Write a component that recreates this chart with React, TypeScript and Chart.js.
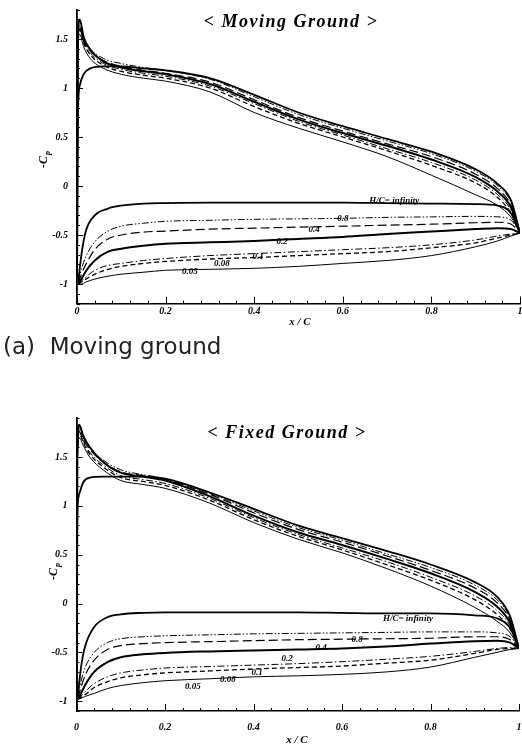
import React, { useEffect, useRef } from "react";
import { Chart, registerables } from "chart.js";
Chart.register(...registerables);

// sample positions (x/C) along the upper and lower surfaces
const upperX = [0, 0.002, 0.006, 0.015, 0.03, 0.06, 0.1, 0.15, 0.2, 0.3, 0.4, 0.5, 0.6, 0.7, 0.8, 0.9, 0.95, 0.98, 1.0];
const lowerX = [0.003, 0.01, 0.02, 0.04, 0.07, 0.1, 0.15, 0.2, 0.3, 0.4, 0.5, 0.6, 0.7, 0.8, 0.9, 0.95, 0.98, 1.0];

const seriesKeys = ["inf", "0.8", "0.4", "0.2", "0.1", "0.08", "0.05"];
const seriesLabels = ["H/C= infinity", "0.8", "0.4", "0.2", "0.1", "0.08", "0.05"];

// ---- Moving ground : upper surface (-Cp)
const movingUpperInf = [-0.95, 0.7, 1.02, 1.14, 1.2, 1.22, 1.22, 1.2, 1.18, 1.1, 0.93, 0.75, 0.61, 0.48, 0.35, 0.17, 0.02, -0.15, -0.48];
const movingUpper08 = [-0.95, 1.45, 1.62, 1.5, 1.4, 1.3, 1.25, 1.21, 1.18, 1.09, 0.91, 0.73, 0.59, 0.46, 0.33, 0.15, 0.0, -0.17, -0.48];
const movingUpper04 = [-0.95, 1.4, 1.6, 1.48, 1.38, 1.28, 1.22, 1.18, 1.15, 1.06, 0.88, 0.7, 0.56, 0.43, 0.3, 0.12, -0.03, -0.2, -0.48];
const movingUpper02 = [-0.95, 1.5, 1.7, 1.52, 1.39, 1.27, 1.21, 1.17, 1.14, 1.04, 0.86, 0.68, 0.54, 0.41, 0.27, 0.09, -0.06, -0.22, -0.48];
const movingUpper01 = [-0.95, 1.42, 1.64, 1.48, 1.36, 1.25, 1.19, 1.15, 1.12, 1.02, 0.84, 0.66, 0.52, 0.38, 0.24, 0.06, -0.09, -0.25, -0.48];
const movingUpper008 = [-0.95, 1.42, 1.6, 1.46, 1.34, 1.23, 1.17, 1.13, 1.1, 1.0, 0.81, 0.64, 0.5, 0.36, 0.21, 0.03, -0.12, -0.28, -0.48];
const movingUpper005 = [-0.95, 1.35, 1.55, 1.42, 1.3, 1.2, 1.14, 1.1, 1.07, 0.96, 0.75, 0.59, 0.45, 0.3, 0.11, -0.09, -0.2, -0.32, -0.48];

// ---- Moving ground : lower surface (-Cp)
const movingLowerInf = [-0.97, -0.7, -0.46, -0.3, -0.23, -0.2, -0.18, -0.175, -0.17, -0.17, -0.17, -0.17, -0.175, -0.18, -0.185, -0.2, -0.28, -0.48];
const movingLower08 = [-0.98, -0.85, -0.72, -0.57, -0.46, -0.41, -0.38, -0.36, -0.35, -0.34, -0.335, -0.33, -0.32, -0.315, -0.31, -0.315, -0.35, -0.48];
const movingLower04 = [-0.99, -0.9, -0.8, -0.65, -0.54, -0.5, -0.47, -0.46, -0.44, -0.43, -0.42, -0.41, -0.4, -0.39, -0.375, -0.37, -0.39, -0.48];
const movingLower02 = [-1.0, -0.95, -0.87, -0.76, -0.67, -0.64, -0.61, -0.59, -0.575, -0.56, -0.54, -0.52, -0.49, -0.465, -0.44, -0.43, -0.44, -0.48];
const movingLower01 = [-1.0, -0.97, -0.93, -0.86, -0.81, -0.79, -0.76, -0.74, -0.71, -0.69, -0.67, -0.65, -0.63, -0.6, -0.55, -0.51, -0.49, -0.48];
const movingLower008 = [-1.0, -0.98, -0.95, -0.9, -0.85, -0.82, -0.79, -0.77, -0.745, -0.73, -0.71, -0.69, -0.67, -0.63, -0.58, -0.53, -0.5, -0.48];
const movingLower005 = [-1.0, -1.0, -0.98, -0.95, -0.92, -0.9, -0.88, -0.86, -0.85, -0.84, -0.82, -0.79, -0.76, -0.71, -0.62, -0.56, -0.51, -0.48];

// ---- Fixed ground : upper surface (-Cp)
const fixedUpperInf = [-0.93, 0.9, 1.12, 1.24, 1.29, 1.3, 1.3, 1.3, 1.28, 1.14, 0.97, 0.8, 0.67, 0.54, 0.4, 0.22, 0.07, -0.13, -0.46];
const fixedUpper08 = [-0.93, 1.55, 1.78, 1.7, 1.6, 1.47, 1.37, 1.32, 1.28, 1.13, 0.95, 0.78, 0.65, 0.51, 0.37, 0.19, 0.04, -0.15, -0.46];
const fixedUpper04 = [-0.93, 1.5, 1.76, 1.68, 1.58, 1.45, 1.35, 1.31, 1.27, 1.12, 0.93, 0.76, 0.63, 0.49, 0.34, 0.16, 0.01, -0.17, -0.46];
const fixedUpper02 = [-0.93, 1.6, 1.83, 1.72, 1.6, 1.45, 1.34, 1.3, 1.26, 1.1, 0.9, 0.73, 0.6, 0.46, 0.31, 0.12, -0.03, -0.2, -0.46];
const fixedUpper01 = [-0.93, 1.5, 1.76, 1.67, 1.55, 1.42, 1.31, 1.27, 1.23, 1.08, 0.88, 0.71, 0.57, 0.43, 0.27, 0.08, -0.07, -0.23, -0.46];
const fixedUpper008 = [-0.93, 1.5, 1.74, 1.65, 1.53, 1.4, 1.29, 1.25, 1.21, 1.06, 0.86, 0.69, 0.55, 0.4, 0.24, 0.04, -0.11, -0.26, -0.46];
const fixedUpper005 = [-0.93, 1.45, 1.7, 1.62, 1.5, 1.37, 1.26, 1.22, 1.18, 1.03, 0.83, 0.66, 0.52, 0.36, 0.18, -0.04, -0.18, -0.3, -0.46];

// ---- Fixed ground : lower surface (-Cp)
const fixedLowerInf = [-0.95, -0.66, -0.43, -0.24, -0.14, -0.11, -0.095, -0.09, -0.09, -0.09, -0.09, -0.095, -0.1, -0.1, -0.12, -0.15, -0.25, -0.46];
const fixedLower08 = [-0.96, -0.8, -0.65, -0.5, -0.4, -0.36, -0.34, -0.33, -0.32, -0.31, -0.305, -0.3, -0.295, -0.29, -0.29, -0.3, -0.34, -0.46];
const fixedLower04 = [-0.97, -0.86, -0.73, -0.58, -0.47, -0.43, -0.41, -0.4, -0.39, -0.38, -0.37, -0.365, -0.36, -0.355, -0.34, -0.34, -0.37, -0.46];
const fixedLower02 = [-0.98, -0.92, -0.83, -0.7, -0.6, -0.55, -0.52, -0.505, -0.49, -0.48, -0.47, -0.46, -0.44, -0.41, -0.385, -0.38, -0.4, -0.46];
const fixedLower01 = [-0.98, -0.95, -0.9, -0.82, -0.75, -0.71, -0.68, -0.66, -0.645, -0.63, -0.615, -0.595, -0.57, -0.54, -0.49, -0.46, -0.45, -0.46];
const fixedLower008 = [-0.98, -0.96, -0.93, -0.86, -0.8, -0.76, -0.73, -0.71, -0.69, -0.67, -0.655, -0.64, -0.61, -0.58, -0.51, -0.47, -0.46, -0.46];
const fixedLower005 = [-0.98, -0.97, -0.95, -0.92, -0.87, -0.84, -0.81, -0.79, -0.77, -0.75, -0.74, -0.725, -0.7, -0.65, -0.55, -0.5, -0.47, -0.46];

// in-plot series label anchors (data coordinates)
const movingLabelX = [0.716, 0.6, 0.535, 0.463, 0.409, 0.327, 0.255];
const movingLabelY = [-0.153, -0.334, -0.449, -0.568, -0.724, -0.789, -0.874];
const fixedLabelX = [0.749, 0.634, 0.553, 0.476, 0.408, 0.342, 0.263];
const fixedLabelY = [-0.151, -0.366, -0.448, -0.56, -0.711, -0.782, -0.851];

// tick labels
const xTickValues = [0, 0.2, 0.4, 0.6, 0.8, 1];
const yTickValues = [-1, -0.5, 0, 0.5, 1, 1.5];

const lineStyles: Record<string, { width: number; dash: number[] }> = {
  inf: { width: 1.8, dash: [] },
  "0.8": { width: 1, dash: [7, 2, 1.5, 2, 1.5, 2] },
  "0.4": { width: 1.2, dash: [9, 4] },
  "0.2": { width: 2, dash: [] },
  "0.1": { width: 1, dash: [7, 2.5, 1.5, 2.5] },
  "0.08": { width: 1.3, dash: [5, 3] },
  "0.05": { width: 1, dash: [] },
};

const SERIF = '"Liberation Serif", "Times New Roman", serif';

const annotPlugin = {
  id: "annot",
  afterDraw(chart: any, _args: any, opts: any) {
    const { ctx, chartArea } = chart;
    const xs = chart.scales.x;
    const ys = chart.scales.y;
    ctx.save();
    ctx.strokeStyle = "#000";
    ctx.lineWidth = 1;
    // inward ticks on y axis (0.1 minor, 0.5 major)
    const i0 = Math.round(opts.yMin * 10);
    const i1 = Math.round(opts.yMax * 10);
    for (let i = i0; i <= i1; i++) {
      const py = Math.round(ys.getPixelForValue(i / 10)) + 0.5;
      const len = i % 5 === 0 ? 6 : 3;
      ctx.beginPath();
      ctx.moveTo(chartArea.left, py);
      ctx.lineTo(chartArea.left + len, py);
      ctx.stroke();
    }
    // inward ticks on x axis (0.04 minor, 0.2 major)
    for (let i = 0; i <= 25; i++) {
      const px = Math.round(xs.getPixelForValue(i * 0.04)) + 0.5;
      const len = i % 5 === 0 ? 7 : 3;
      ctx.beginPath();
      ctx.moveTo(px, chartArea.bottom);
      ctx.lineTo(px, chartArea.bottom - len);
      ctx.stroke();
    }
    // series labels
    ctx.fillStyle = "#000";
    ctx.font = `italic bold 9px ${SERIF}`;
    ctx.textAlign = "center";
    ctx.textBaseline = "middle";
    seriesLabels.forEach((t, i) => {
      ctx.fillText(t, xs.getPixelForValue(opts.labelX[i]), ys.getPixelForValue(opts.labelY[i]));
    });
    // title
    ctx.font = `italic bold 18px ${SERIF}`;
    ctx.textBaseline = "alphabetic";
    try { (ctx as any).letterSpacing = "1.5px"; } catch (e) {}
    ctx.fillText(opts.title, opts.titleX, opts.titleY);
    try { (ctx as any).letterSpacing = "0px"; } catch (e) {}
    // x axis title
    ctx.font = `italic bold 11px ${SERIF}`;
    ctx.textBaseline = "middle";
    ctx.fillText("x / C", opts.xTitleX, opts.xTitleY);
    // y axis title  -Cp (rotated)
    ctx.translate(opts.yTitleX, opts.yTitleY);
    ctx.rotate(-Math.PI / 2);
    ctx.font = `italic bold 12px ${SERIF}`;
    ctx.textAlign = "left";
    ctx.textBaseline = "alphabetic";
    const w = ctx.measureText("-C").width;
    ctx.fillText("-C", -w / 2 - 2, 4);
    ctx.font = `italic bold 8px ${SERIF}`;
    ctx.fillText("p", w / 2 - 1, 7);
    ctx.restore();
  },
};

type PanelProps = {
  top: number;
  height: number;
  area: { left: number; top: number; right: number; bottom: number };
  yMin: number;
  yMax: number;
  xTickPad: number;
  upper: number[][];
  lower: number[][];
  labelX: number[];
  labelY: number[];
  title: string;
  titleX: number;
  titleY: number;
  xTitleX: number;
  xTitleY: number;
  yTitleX: number;
  yTitleY: number;
};

function Panel(p: PanelProps) {
  const ref = useRef<HTMLCanvasElement>(null);
  useEffect(() => {
    const canvas = ref.current!;
    const datasets: any[] = [];
    seriesKeys.forEach((k, i) => {
      const st = lineStyles[k];
      [p.upper[i], p.lower[i]].forEach((vals, j) => {
        const xsArr = j === 0 ? upperX : lowerX;
        datasets.push({
          data: xsArr.map((x, n) => ({ x, y: vals[n] })),
          showLine: true,
          borderColor: "#000",
          backgroundColor: "#000",
          borderWidth: st.width,
          borderDash: st.dash,
          pointRadius: 0,
          pointHoverRadius: 0,
          fill: false,
          cubicInterpolationMode: "monotone",
        });
      });
    });
    const tickFont = { family: SERIF, size: 10, style: "italic" as const, weight: "bold" as const };
    const chart = new Chart(canvas, {
      type: "scatter",
      data: { datasets },
      options: {
        animation: false,
        responsive: false,
        events: [],
        layout: { padding: { left: 0, top: p.area.top, right: 522 - p.area.right, bottom: 0 } },
        plugins: {
          legend: { display: false },
          tooltip: { enabled: false },
          annot: {
            yMin: p.yMin,
            yMax: p.yMax,
            labelX: p.labelX,
            labelY: p.labelY,
            title: p.title,
            titleX: p.titleX,
            titleY: p.titleY,
            xTitleX: p.xTitleX,
            xTitleY: p.xTitleY,
            yTitleX: p.yTitleX,
            yTitleY: p.yTitleY,
          },
        } as any,
        scales: {
          x: {
            type: "linear",
            min: 0,
            max: 1,
            afterBuildTicks: (s: any) => {
              s.ticks = xTickValues.map((v) => ({ value: v }));
            },
            afterFit: (s: any) => {
              s.height = p.height - p.area.bottom;
              s.paddingLeft = 0;
              s.paddingRight = 0;
            },
            grid: { display: false, drawTicks: false },
            border: { display: true, color: "#000", width: 1.6 },
            ticks: {
              font: tickFont,
              color: "#000",
              padding: p.xTickPad,
              maxRotation: 0,
              autoSkip: false,
              callback: (v: any) => String(v),
            },
          },
          y: {
            type: "linear",
            min: p.yMin,
            max: p.yMax,
            afterBuildTicks: (s: any) => {
              s.ticks = yTickValues.map((v) => ({ value: v }));
            },
            afterFit: (s: any) => {
              s.width = p.area.left;
              s.paddingTop = 0;
              s.paddingBottom = 0;
            },
            grid: { display: false, drawTicks: false },
            border: { display: true, color: "#000", width: 1.8 },
            ticks: {
              font: tickFont,
              color: "#000",
              padding: 9,
              autoSkip: false,
              callback: (v: any) => String(v),
            },
          },
        },
      },
      plugins: [annotPlugin as any],
    });
    return () => chart.destroy();
  }, []);
  return (
    <canvas
      ref={ref}
      width={522}
      height={p.height}
      style={{ position: "absolute", left: 0, top: p.top, width: 522, height: p.height, display: "block" }}
    />
  );
}

export default function App() {
  return (
    <div style={{ position: "absolute", left: 0, top: 0, width: 522, height: 745, overflow: "hidden", background: "#fff" }}>
      <Panel
        top={0}
        height={335}
        area={{ left: 77, top: 9.6, right: 520, bottom: 303.6 }}
        yMin={-1.2}
        yMax={1.8}
        xTickPad={2}
        upper={[movingUpperInf, movingUpper08, movingUpper04, movingUpper02, movingUpper01, movingUpper008, movingUpper005]}
        lower={[movingLowerInf, movingLower08, movingLower04, movingLower02, movingLower01, movingLower008, movingLower005]}
        labelX={movingLabelX}
        labelY={movingLabelY}
        title="< Moving Ground >"
        titleX={291}
        titleY={27}
        xTitleX={300}
        xTitleY={322}
        yTitleX={43}
        yTitleY={160}
      />
      <div
        style={{
          position: "absolute",
          left: 3,
          top: 333,
          fontFamily: '"DejaVu Sans", sans-serif',
          fontSize: 23,
          color: "#222",
          whiteSpace: "pre",
        }}
      >
        (a)  Moving ground
      </div>
      <Panel
        top={385}
        height={360}
        area={{ left: 76.5, top: 33, right: 519, bottom: 326 }}
        yMin={-1.1}
        yMax={1.9}
        xTickPad={10}
        upper={[fixedUpperInf, fixedUpper08, fixedUpper04, fixedUpper02, fixedUpper01, fixedUpper008, fixedUpper005]}
        lower={[fixedLowerInf, fixedLower08, fixedLower04, fixedLower02, fixedLower01, fixedLower008, fixedLower005]}
        labelX={fixedLabelX}
        labelY={fixedLabelY}
        title="< Fixed Ground >"
        titleX={287}
        titleY={53}
        xTitleX={297}
        xTitleY={355}
        yTitleX={53}
        yTitleY={187}
      />
    </div>
  );
}
